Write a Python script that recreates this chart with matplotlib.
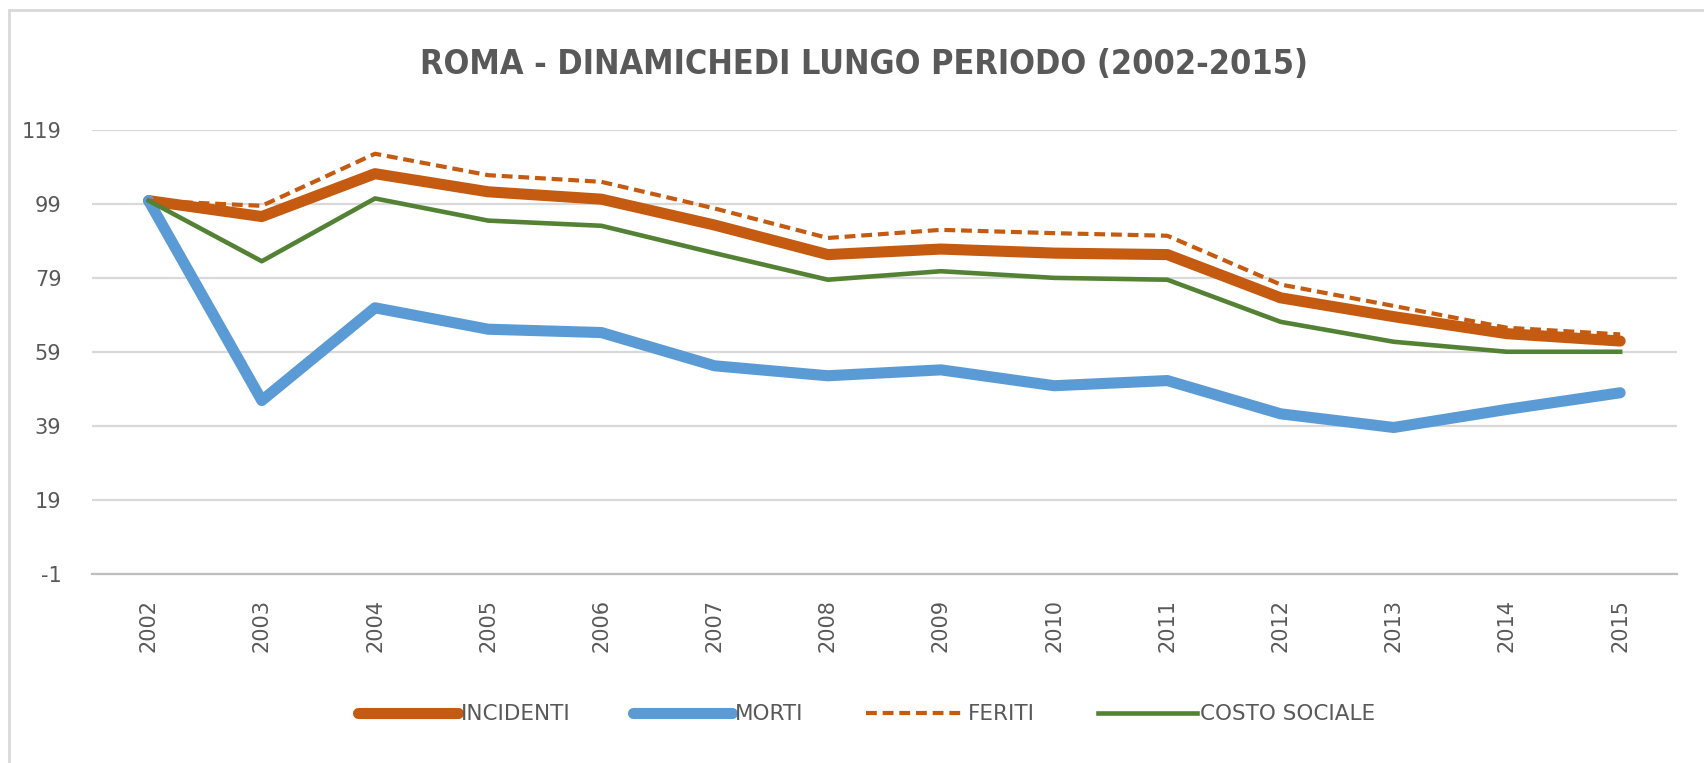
import matplotlib.pyplot as plt
from matplotlib.lines import Line2D

# dati (indice 2002 = 100)
anni = [str(a) for a in range(2002, 2016)]
incidenti = [100, 95.7, 107.3, 102.4, 100.4, 93.4, 85.4, 86.9, 85.8, 85.4, 73.7, 68.6, 64.0, 62.0]
morti = [100, 45.9, 71.0, 65.2, 64.3, 55.3, 52.6, 54.2, 49.9, 51.3, 42.3, 38.6, 43.5, 48.0]
feriti = [100, 98.6, 112.7, 106.9, 105.1, 97.9, 89.9, 92.1, 91.2, 90.5, 77.3, 71.5, 65.6, 63.8]
costo_sociale = [100, 83.6, 100.6, 94.6, 93.2, 85.8, 78.6, 80.9, 79.1, 78.6, 67.2, 61.8, 59.1, 59.1]
y_ticks = [-1, 19, 39, 59, 79, 99, 119]

TEXT = "#595959"
GRID = "#D9D9D9"

plt.rcParams['font.family'] = ['DejaVu Sans']
plt.rcParams['axes.unicode_minus'] = False

fig = plt.figure(figsize=(17.04, 7.63), dpi=100)
ax = fig.add_axes([0.054, 0.248, 0.930, 0.581])

x = list(range(len(anni)))
ax.plot(x, incidenti, color="#C55A11", lw=8, solid_joinstyle="round",
        solid_capstyle="round", label="INCIDENTI")
ax.plot(x, morti, color="#5B9BD5", lw=8, solid_joinstyle="round",
        solid_capstyle="round", label="MORTI")
ax.plot(x, feriti, color="#C55A11", lw=3, dashes=(2.6, 1.4),
        dash_capstyle="butt", label="FERITI")
ax.plot(x, costo_sociale, color="#548235", lw=3.3, solid_joinstyle="round",
        label="COSTO SOCIALE")

ax.set_xlim(-0.5, len(anni) - 0.5)
ax.set_ylim(-1, 119)
ax.set_yticks(y_ticks)
ax.set_xticks(x)
ax.set_xticklabels(anni, rotation=90)
ax.tick_params(axis="both", length=0, labelsize=15, labelcolor=TEXT)
ax.tick_params(axis="x", pad=18)
ax.tick_params(axis="y", pad=22)

ax.grid(axis="y", color=GRID, lw=1.6)
ax.set_axisbelow(True)
for s in ["top", "right", "left"]:
    ax.spines[s].set_visible(False)
ax.spines["bottom"].set_color("#BFBFBF")
ax.spines["bottom"].set_linewidth(1.6)

fig.text(0.507, 0.915, "ROMA - DINAMICHEDI LUNGO PERIODO (2002-2015)",
         ha="center", va="center", fontsize=24.5, fontweight="bold",
         fontstretch="condensed", color=TEXT)

leg = ax.legend(loc="center", bbox_to_anchor=(0.5087, 0.064), bbox_transform=fig.transFigure,
                ncol=4, frameon=False, fontsize=15.5, handlelength=4.6,
                handletextpad=0.15, columnspacing=2.9)
for t in leg.get_texts():
    t.set_color(TEXT)

# bordo del riquadro del grafico
fig.add_artist(Line2D([9 / 1704, 1.0], [1 - 10 / 763, 1 - 10 / 763], color=GRID, lw=2))
fig.add_artist(Line2D([9 / 1704, 9 / 1704], [0.0, 1 - 10 / 763], color=GRID, lw=2))

fig.savefig("out.png", dpi=100)
plt.close(fig)
